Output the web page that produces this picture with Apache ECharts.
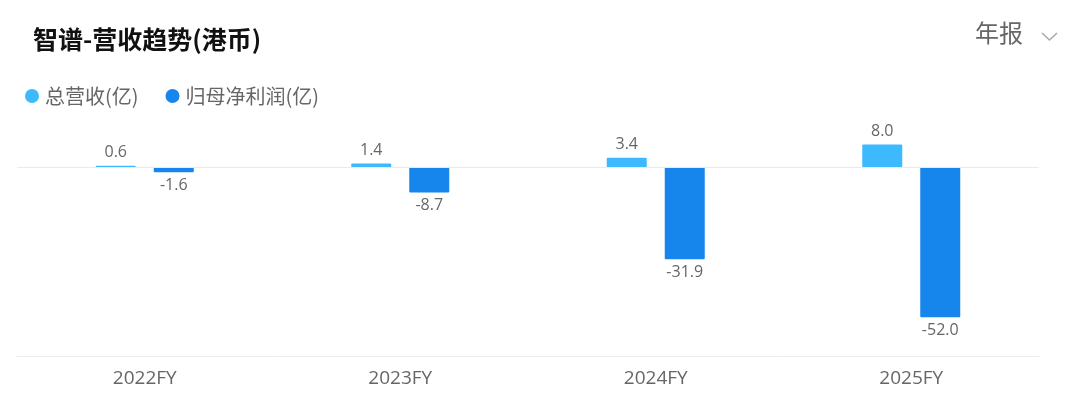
<!DOCTYPE html>
<html>
<head>
<meta charset="utf-8">
<script src="https://cdn.jsdelivr.net/npm/echarts@6/dist/echarts.min.js"></script>
<style>
html,body{margin:0;padding:0;background:#fff;}
#main{width:1080px;height:411px;}
</style>
</head>
<body>
<div id="main"></div>
<script>
const categories = ['2022FY', '2023FY', '2024FY', '2025FY'];
const revenue = [0.6, 1.4, 3.4, 8.0];
const netProfit = [-1.6, -8.7, -31.9, -52.0];
const seriesNames = ['总营收(亿)', '归母净利润(亿)'];

const FONT = "'Open Sans','Noto Sans CJK SC',sans-serif";
const labelStyle = { color: '#666', fontSize: 16, fontFamily: FONT, distance: 5, formatter: p => p.value.toFixed(1) };

function toItems(arr) {
  return arr.map(v => ({ value: v, label: { position: v < 0 ? 'bottom' : 'top' } }));
}

const chart = echarts.init(document.getElementById('main'), null, { renderer: 'canvas' });
chart.setOption({
  animation: false,
  backgroundColor: '#fff',
  title: {
    text: '智谱-营收趋势(港币)',
    left: 28, top: 22,
    textStyle: { fontSize: 25, fontWeight: 'bold', color: '#111', fontFamily: "'Noto Sans CJK SC',sans-serif" }
  },
  legend: {
    left: 20, top: 81,
    icon: 'circle', itemWidth: 14, itemHeight: 14, itemGap: 27,
    textStyle: { fontSize: 20, color: '#666', fontFamily: "'Noto Sans CJK SC',sans-serif", padding: [0, 0, 0, 1] },
    data: seriesNames
  },
  graphic: [
    { type: 'text', left: 975, top: 21, style: { text: '年报', fontSize: 24, fill: '#666', fontFamily: "'Noto Sans CJK SC',sans-serif" } },
    { type: 'polyline', shape: { points: [[1042, 33], [1049.5, 40], [1057, 33]] }, style: { stroke: '#aaa', lineWidth: 1.5, fill: null } }
  ],
  grid: { left: 17, right: 41, top: 100, bottom: 55, containLabel: false },
  xAxis: {
    type: 'category', data: categories,
    axisLine: { show: true, onZero: false, lineStyle: { color: '#ececec', width: 1 } },
    axisTick: { show: false },
    axisLabel: { color: '#666', fontSize: 19, margin: 13, fontFamily: FONT }
  },
  yAxis: {
    type: 'value', min: -65.5, max: 23.5,
    show: false,
    splitLine: { show: false }
  },
  series: [
    {
      name: seriesNames[0], type: 'bar', data: toItems(revenue),
      barWidth: 40, barGap: '45%',
      itemStyle: { color: '#3cbafd', borderRadius: 1 },
      label: Object.assign({ show: true }, labelStyle),
      markLine: {
        silent: true, symbol: 'none', label: { show: false },
        lineStyle: { color: '#eaeaea', type: 'solid', width: 1 },
        data: [{ yAxis: 0 }]
      }
    },
    {
      name: seriesNames[1], type: 'bar', data: toItems(netProfit),
      barWidth: 40,
      itemStyle: { color: '#1685ec', borderRadius: 1 },
      label: Object.assign({ show: true }, labelStyle)
    }
  ]
});
</script>
</body>
</html>
